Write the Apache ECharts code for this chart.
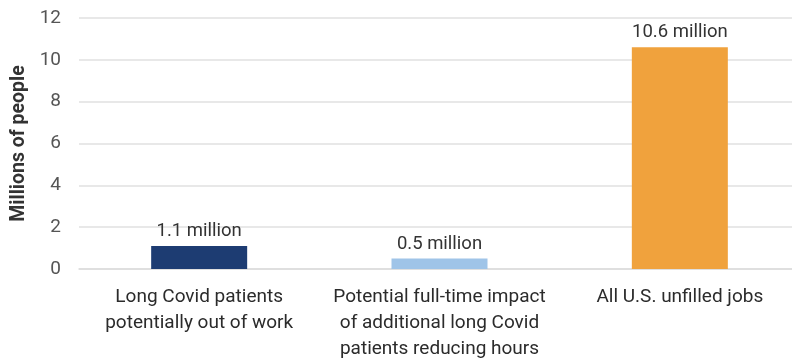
<!DOCTYPE html>
<html>
<head>
<meta charset="utf-8">
<script src="https://cdn.jsdelivr.net/npm/echarts@6/dist/echarts.min.js"></script>
<style>
  html, body { margin: 0; padding: 0; background: #fff; overflow: hidden; }
  /* the plot area runs slightly past the right edge of the window */
  #chart { width: 810px; height: 362px; }
</style>
</head>
<body>
<div id="chart"></div>
<script>
// Categories and values (millions of people)
const categories = [
  'Long Covid patients\npotentially out of work',
  'Potential full-time impact\nof additional long Covid\npatients reducing hours',
  'All U.S. unfilled jobs'
];
const values = [1.1, 0.5, 10.6];
const valueLabels = ['1.1 million', '0.5 million', '10.6 million'];
const barColors = ['#1d3c72', '#9fc4e8', '#f0a23d'];
const yTicks = [0, 2, 4, 6, 8, 10, 12];

const chart = echarts.init(document.getElementById('chart'), null, { renderer: 'canvas' });
chart.setOption({
  animation: false,
  grid: { left: 79, top: 18, right: 10, bottom: 90, containLabel: false },
  xAxis: {
    type: 'category',
    data: categories,
    axisLine: { show: true, lineStyle: { color: '#dcdcdc', width: 1.5 } },
    axisTick: { show: false },
    axisLabel: {
      color: '#2b2b2b',
      fontFamily: 'Roboto',
      fontSize: 19,
      lineHeight: 26,
      margin: 15,
      interval: 0
    }
  },
  yAxis: {
    type: 'value',
    min: yTicks[0],
    max: yTicks[yTicks.length - 1],
    interval: 2,
    name: 'Millions of people',
    nameLocation: 'middle',
    nameGap: 50,
    nameTextStyle: { fontFamily: 'Roboto', fontSize: 19.5, fontWeight: 'bold', color: '#333' },
    axisLine: { show: false },
    axisTick: { show: false },
    axisLabel: { color: '#555', fontFamily: 'Roboto', fontSize: 19, margin: 18 },
    splitLine: { lineStyle: { color: '#e0e0e0', width: 1.5 } }
  },
  series: [{
    type: 'bar',
    barWidth: 96,
    data: values.map((v, i) => ({ value: v, itemStyle: { color: barColors[i] } })),
    label: {
      show: true,
      position: 'top',
      distance: 5,
      color: '#333',
      fontFamily: 'Roboto',
      fontSize: 18.5,
      formatter: p => valueLabels[p.dataIndex]
    }
  }]
});
</script>
</body>
</html>
